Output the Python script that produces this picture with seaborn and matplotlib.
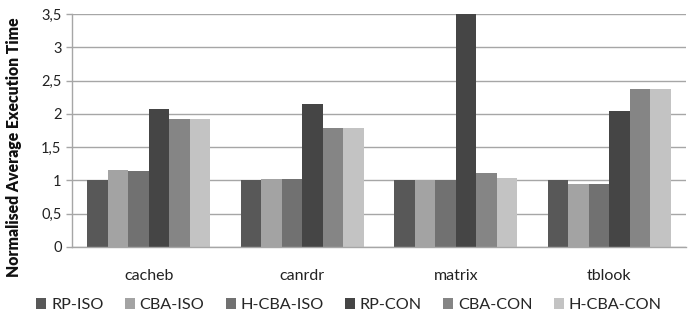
import numpy as np
import pandas as pd
import seaborn as sns
import matplotlib.pyplot as plt
from matplotlib.ticker import FixedLocator, FuncFormatter

# data
benchmarks = ["cacheb", "canrdr", "matrix", "tblook"]
series = ["RP-ISO", "CBA-ISO", "H-CBA-ISO", "RP-CON", "CBA-CON", "H-CBA-CON"]
rp_iso = [1.0, 1.0, 1.0, 1.0]
cba_iso = [1.15, 1.02, 1.0, 0.95]
hcba_iso = [1.14, 1.02, 1.0, 0.95]
rp_con = [2.07, 2.15, 3.5, 2.05]
cba_con = [1.93, 1.79, 1.11, 2.37]
hcba_con = [1.92, 1.79, 1.04, 2.38]
yticks = [0, 0.5, 1, 1.5, 2, 2.5, 3, 3.5]

COLORS = ["#585858", "#a3a3a3", "#717171", "#454545", "#858585", "#c3c3c3"]

values = [rp_iso, cba_iso, hcba_iso, rp_con, cba_con, hcba_con]
df = pd.DataFrame(
    [(b, s, v[i]) for s, v in zip(series, values) for i, b in enumerate(benchmarks)],
    columns=["benchmark", "series", "value"],
)

sns.set_style("white")
plt.rcParams["font.family"] = ["Lato", "DejaVu Sans"]

fig = plt.figure(figsize=(6.97, 3.2), dpi=100)
ax = fig.add_axes([72 / 697, 1 - 247 / 320, 614 / 697, 233 / 320])

sns.barplot(
    data=df, x="benchmark", y="value", hue="series",
    order=benchmarks, hue_order=series, palette=COLORS,
    width=0.8, saturation=1, linewidth=0, ax=ax, legend=True,
)

ax.set_ylim(0, 3.5)
ax.set_xlim(-0.5, len(benchmarks) - 0.5)
ax.set_yticks(yticks)
ax.yaxis.set_major_formatter(FuncFormatter(lambda v, p: f"{v:g}".replace(".", ",")))
ax.yaxis.grid(True, color="#a6a6a6", linewidth=1)
ax.set_axisbelow(True)

ax.xaxis.set_minor_locator(FixedLocator(np.arange(-0.5, len(benchmarks), 1.0)))
ax.tick_params(axis="x", which="major", length=0, labelsize=11.5, pad=16, colors="#222222")
ax.tick_params(axis="x", which="minor", length=5, width=1, color="#a6a6a6", direction="out")
ax.tick_params(axis="y", length=4, width=1, color="#a6a6a6", direction="out",
               labelsize=10.5, labelcolor="#222222", left=True)

for side in ["top", "right"]:
    ax.spines[side].set_visible(False)
for side in ["left", "bottom"]:
    ax.spines[side].set_color("#a6a6a6")
    ax.spines[side].set_linewidth(1)

ax.set_xlabel("")
ax.set_ylabel("Normalised Average Execution Time", fontsize=11.3,
              fontweight="heavy", color="#111111")
ax.yaxis.set_label_coords(-0.082, 0.427)

handles, labels = ax.get_legend_handles_labels()
ax.legend_.remove()
fig.legend(
    handles, labels, loc="center", bbox_to_anchor=(349 / 697, 1 - 305 / 320),
    ncol=6, frameon=False, fontsize=11.7, handlelength=0.62, handleheight=0.62,
    handletextpad=0.3, columnspacing=1.3,
)

fig.savefig("out.png", dpi=100)
